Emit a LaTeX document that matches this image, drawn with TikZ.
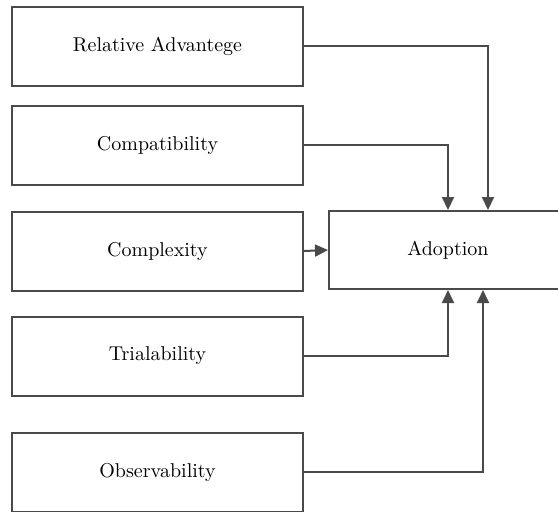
\documentclass[tikz,border=0pt]{standalone}
\usepackage{tikz}
\usetikzlibrary{calc}
\usetikzlibrary{arrows.meta}
\definecolor{linegray}{HTML}{4A4A4A}
\begin{document}
\begin{tikzpicture}[x=0.5pt,y=-0.5pt,
    box/.style={draw=linegray,line width=1pt,minimum width=145.5pt,
      minimum height=39.5pt,inner sep=0pt,fill=white},
    conn/.style={draw=linegray,line width=1pt,
      -{Triangle[length=6.5pt,width=6pt]}}]
    \path[use as bounding box,clip] (0,0) rectangle (558,511);
    % factors on the left
    \node[box] (rel)   at (157.5,46)  {Relative Advantege};
    \node[box] (comp)  at (157.5,145) {Compatibility};
    \node[box] (cplx)  at (157.5,251) {Complexity};
    \node[box] (trial) at (157.5,356) {Trialability};
    \node[box] (obs)   at (157.5,472) {Observability};
    % outcome
    \node[box,minimum width=119pt,minimum height=39pt] (adop) at (448,250) {Adoption};
    \draw[conn] (rel.east)   -| ([xshift=20pt]adop.north);
    \draw[conn] (comp.east)  -| (adop.north);
    \draw[conn] (cplx.east)  -- (adop.west);
    \draw[conn] (trial.east) -| (adop.south);
    \draw[conn] (obs.east)   -| ([xshift=17.5pt]adop.south);
  \end{tikzpicture}
\end{document}
